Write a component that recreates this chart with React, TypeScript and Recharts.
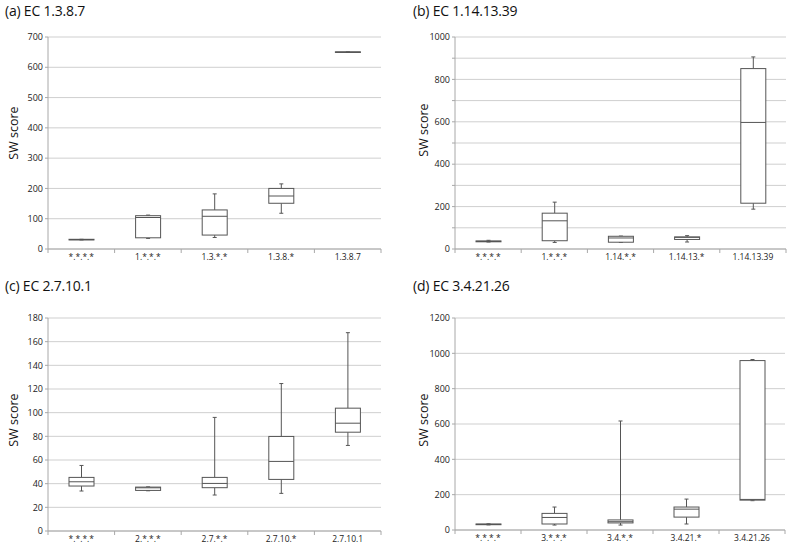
import React from "react";
import { ComposedChart, Bar, XAxis, YAxis, CartesianGrid } from "recharts";

// (a) EC 1.3.8.7
const catsA = ["*.*.*.*", "1.*.*.*", "1.3.*.*", "1.3.8.*", "1.3.8.7"];
const minA = [30, 35, 38, 118, 649];
const q1A = [30, 37, 46, 151, 649];
const medA = [31, 104, 108, 175, 650];
const q3A = [32, 110, 129, 200, 651];
const maxA = [32, 112, 182, 215, 651];
const ticksA = [0, 100, 200, 300, 400, 500, 600, 700];

// (b) EC 1.14.13.39
const catsB = ["*.*.*.*", "1.*.*.*", "1.14.*.*", "1.14.13.*", "1.14.13.39"];
const minB = [33, 31, 31, 33, 188];
const q1B = [34, 39, 32, 45, 216];
const medB = [36, 133, 52, 55, 597];
const q3B = [38, 169, 60, 57, 851];
const maxB = [41, 221, 61, 63, 906];
const ticksB = [0, 100, 200, 300, 400, 500, 600, 700, 800, 900, 1000];

// (c) EC 2.7.10.1
const catsC = ["*.*.*.*", "2.*.*.*", "2.7.*.*", "2.7.10.*", "2.7.10.1"];
const minC = [33.8, 34, 30.4, 31.8, 72.3];
const q1C = [38, 34.3, 36.6, 43.6, 83.5];
const medC = [41.6, 36.5, 40.2, 58.8, 91.1];
const q3C = [45.3, 37.1, 45.3, 79.9, 103.8];
const maxC = [55.4, 37.3, 96, 124.6, 167.6];
const ticksC = [0, 20, 40, 60, 80, 100, 120, 140, 160, 180];

// (d) EC 3.4.21.26
const catsD = ["*.*.*.*", "3.*.*.*", "3.4.*.*", "3.4.21.*", "3.4.21.26"];
const minD = [29, 28, 28, 34, 166];
const q1D = [30, 34, 40, 73, 169];
const medD = [32, 71, 47, 118, 173];
const q3D = [34, 94, 57, 130, 959];
const maxD = [35, 130, 617, 175, 965];
const ticksD = [0, 200, 400, 600, 800, 1000, 1200];

const FONT = '"Open Sans", "Noto Sans", sans-serif';
const LINE = "#555";
const GRID = "#cfcfcf";
const AXIS = "#a8a8a8";

const buildRows = (cats, mins, q1s, meds, q3s, maxs) =>
  cats.map((name, i) => ({
    name,
    min: mins[i],
    q1: q1s[i],
    med: meds[i],
    q3: q3s[i],
    max: maxs[i],
    range: [mins[i], maxs[i]],
  }));

const BoxShape = (props: any) => {
  const { x, y, width, height, payload } = props;
  if (x == null || !payload) return null;
  const top = Math.min(y, y + height);
  const bottom = Math.max(y, y + height);
  const span = payload.max - payload.min;
  const py = (v: number) =>
    span === 0 ? top : bottom - ((v - payload.min) / span) * (bottom - top);
  const cx = x + width / 2;
  const cap = 2;
  return (
    <g stroke={LINE} strokeWidth={1}>
      <line x1={cx} x2={cx} y1={py(payload.max)} y2={py(payload.q3)} />
      <line x1={cx} x2={cx} y1={py(payload.q1)} y2={py(payload.min)} />
      <line x1={cx - cap} x2={cx + cap} y1={py(payload.max)} y2={py(payload.max)} />
      <line x1={cx - cap} x2={cx + cap} y1={py(payload.min)} y2={py(payload.min)} />
      <rect
        x={x}
        y={py(payload.q3)}
        width={width}
        height={Math.max(py(payload.q1) - py(payload.q3), 0.5)}
        fill="#fff"
      />
      <line x1={x} x2={x + width} y1={py(payload.med)} y2={py(payload.med)} />
    </g>
  );
};

const makeTick = (n: number, plotW: number) => (props: any) => {
  const { x, y, payload, index } = props;
  const band = plotW / n;
  const axisY = y - 5;
  return (
    <g>
      <line x1={x - band / 2} x2={x - band / 2} y1={axisY} y2={axisY + 4} stroke={AXIS} />
      {index === n - 1 && (
        <line x1={x + band / 2} x2={x + band / 2} y1={axisY} y2={axisY + 4} stroke={AXIS} />
      )}
      <text x={x} y={y} dy="0.71em" textAnchor="middle" fontSize={8.5} fill="#222" fontFamily={FONT}>
        {payload.value}
      </text>
    </g>
  );
};

function Panel({ left, top, w, h, title, rows, ticks, labelTicks, margin, yWidth, labelX, labelY }) {
  const plotW = w - margin.left - margin.right - yWidth;
  const domainMax = ticks[ticks.length - 1];
  return (
    <div style={{ position: "absolute", left, top, width: w, height: h }}>
      <div
        style={{
          position: "absolute",
          left: title.x,
          top: 1,
          fontSize: 14,
          letterSpacing: -0.2,
          fontFamily: FONT,
          color: "#111",
          whiteSpace: "nowrap",
        }}
      >
        {title.text}
      </div>
      <span
        style={{
          position: "absolute",
          left: labelX,
          top: labelY,
          transform: "translate(-50%, -50%) rotate(-90deg)",
          fontSize: 12.5,
          fontFamily: FONT,
          color: "#111",
          whiteSpace: "nowrap",
        }}
      >
        SW score
      </span>
      <ComposedChart width={w} height={h} data={rows} margin={margin} style={{ position: "absolute", left: 0, top: 0 }}>
        <CartesianGrid vertical={false} stroke={GRID} />
        <XAxis
          dataKey="name"
          interval={0}
          tickSize={0}
          tickMargin={5}
          height={20}
          axisLine={{ stroke: AXIS }}
          tick={makeTick(rows.length, plotW)}
        />
        <YAxis
          type="number"
          domain={[0, domainMax]}
          ticks={ticks}
          interval={0}
          width={yWidth}
          tickSize={3}
          tickMargin={2}
          axisLine={{ stroke: AXIS }}
          tickLine={{ stroke: AXIS }}
          tick={{ fontSize: 9, fill: "#222", fontFamily: FONT }}
          tickFormatter={(v) => (labelTicks.includes(v) ? String(v) : "")}
        />
        <Bar dataKey="range" barSize={25} shape={(p: any) => <BoxShape {...p} />} isAnimationActive={false} />
      </ComposedChart>
    </div>
  );
}

export default function App() {
  const rowsA = buildRows(catsA, minA, q1A, medA, q3A, maxA);
  const rowsB = buildRows(catsB, minB, q1B, medB, q3B, maxB);
  const rowsC = buildRows(catsC, minC, q1C, medC, q3C, maxC);
  const rowsD = buildRows(catsD, minD, q1D, medD, q3D, maxD);
  return (
    <div style={{ position: "absolute", left: 0, top: 0, width: 791, height: 551, background: "#fff" }}>
      <Panel
        left={0}
        top={0}
        w={395}
        h={275}
        title={{ x: 5, text: "(a) EC 1.3.8.7" }}
        rows={rowsA}
        ticks={ticksA}
        labelTicks={ticksA}
        margin={{ top: 37, right: 14, bottom: 6, left: 0 }}
        yWidth={48}
        labelX={13}
        labelY={133}
      />
      <Panel
        left={395}
        top={0}
        w={396}
        h={275}
        title={{ x: 18, text: "(b) EC 1.14.13.39" }}
        rows={rowsB}
        ticks={ticksB}
        labelTicks={[0, 200, 400, 600, 800, 1000]}
        margin={{ top: 37, right: 5, bottom: 6, left: 0 }}
        yWidth={60}
        labelX={28}
        labelY={130}
      />
      <Panel
        left={0}
        top={275}
        w={395}
        h={276}
        title={{ x: 5, text: "(c) EC 2.7.10.1" }}
        rows={rowsC}
        ticks={ticksC}
        labelTicks={ticksC}
        margin={{ top: 43, right: 14, bottom: 0, left: 0 }}
        yWidth={48}
        labelX={13}
        labelY={145}
      />
      <Panel
        left={395}
        top={275}
        w={396}
        h={276}
        title={{ x: 18, text: "(d) EC 3.4.21.26" }}
        rows={rowsD}
        ticks={ticksD}
        labelTicks={ticksD}
        margin={{ top: 43, right: 6, bottom: 1, left: 0 }}
        yWidth={60}
        labelX={28}
        labelY={145}
      />
    </div>
  );
}
